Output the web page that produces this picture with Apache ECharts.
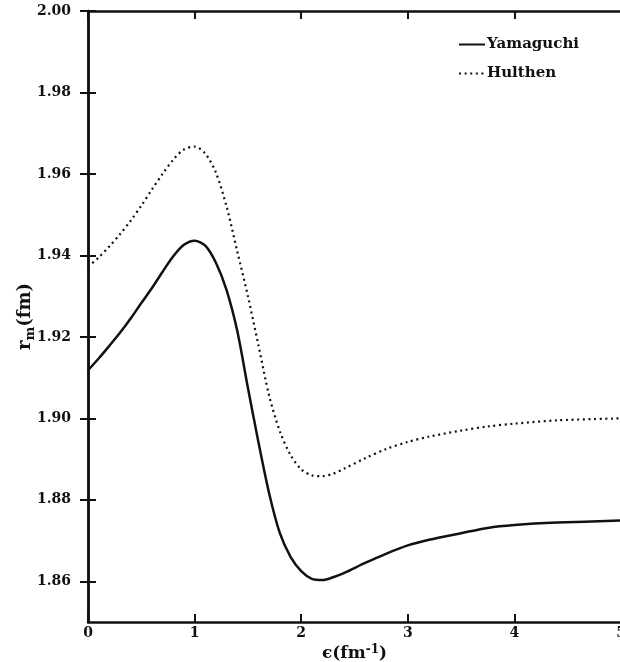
<!DOCTYPE html>
<html>
<head>
<meta charset="utf-8">
<script src="https://cdn.jsdelivr.net/npm/echarts@6/dist/echarts.min.js"></script>
<style>
  html, body { margin: 0; padding: 0; background: #fff; }
  #chart { width: 620px; height: 662px; }
</style>
</head>
<body>
<div id="chart"></div>
<script>
// Energy parameter epsilon (fm^-1) and matter radius r_m (fm)
const yamaguchiEps = [0, 0.1, 0.2, 0.3, 0.4, 0.5, 0.6, 0.7, 0.8, 0.9, 1.0, 1.1, 1.2, 1.3, 1.4, 1.5, 1.6, 1.7, 1.8, 1.9, 2.0, 2.1, 2.2, 2.3, 2.4, 2.6, 2.8, 3.0, 3.2, 3.5, 3.75, 4.0, 4.4, 5.0];
const yamaguchiRm  = [1.9118, 1.9147, 1.9178, 1.9210, 1.9245, 1.9283, 1.9320, 1.9360, 1.9398, 1.9426, 1.9436, 1.9424, 1.9382, 1.9315, 1.9215, 1.9075, 1.8940, 1.8815, 1.8718, 1.8660, 1.8625, 1.8606, 1.8603, 1.8610, 1.8620, 1.8645, 1.8668, 1.8688, 1.8702, 1.8718, 1.8731, 1.8738, 1.8744, 1.8749];

const hulthenEps = [0, 0.1, 0.2, 0.3, 0.4, 0.5, 0.6, 0.7, 0.8, 0.9, 1.0, 1.1, 1.2, 1.3, 1.4, 1.5, 1.6, 1.7, 1.8, 1.9, 2.0, 2.1, 2.2, 2.3, 2.4, 2.6, 2.8, 3.0, 3.2, 3.5, 3.75, 4.0, 4.4, 5.0];
const hulthenRm  = [1.9372, 1.9395, 1.9422, 1.9452, 1.9485, 1.9522, 1.9562, 1.9600, 1.9635, 1.9660, 1.9667, 1.9650, 1.9603, 1.9520, 1.9410, 1.9300, 1.9178, 1.9055, 1.8968, 1.8910, 1.8875, 1.8860, 1.8858, 1.8864, 1.8876, 1.8902, 1.8925, 1.8942, 1.8955, 1.8970, 1.8980, 1.8987, 1.8995, 1.9000];

const xTicks = [0, 1, 2, 3, 4, 5];
const yTicks = [1.86, 1.88, 1.90, 1.92, 1.94, 1.96, 1.98, 2.00];

const pair = (xs, ys) => xs.map((x, i) => [x, ys[i]]);

const FONT = '"DejaVu Serif", "Liberation Serif", serif';
const INK = '#111';

const chart = echarts.init(document.getElementById('chart'), null, { renderer: 'canvas' });

const tickStyle = { show: true, inside: true, length: 8, lineStyle: { color: INK, width: 2 } };
const lineStyle = { show: true, lineStyle: { color: INK, width: 2.5 } };

chart.setOption({
  animation: false,
  backgroundColor: '#fff',
  grid: { left: 88, right: -1, top: 11, bottom: 40, containLabel: false, outerBoundsMode: 'none' },
  legend: {
    orient: 'vertical',
    right: 36,
    top: 32,
    itemGap: 14,
    itemWidth: 26,
    itemHeight: 10,
    itemStyle: { opacity: 0 },
    textStyle: { fontFamily: FONT, fontWeight: 'bold', fontSize: 15, color: INK, padding: [0, 0, 0, -3] },
    data: ['Yamaguchi', 'Hulthen']
  },
  xAxis: [
    {
      type: 'value', min: 0, max: 5, interval: 1, position: 'bottom',
      axisLine: lineStyle, axisTick: tickStyle, splitLine: { show: false },
      axisLabel: {
        customValues: xTicks, margin: 4,
        fontFamily: FONT, fontWeight: 'bold', fontSize: 14, color: INK
      },
      name: '{e|ϵ}{p|(fm}{s|-1}{p|)}',
      nameLocation: 'middle', nameGap: 22, nameMoveOverlap: false,
      nameTextStyle: {
        rich: {
          e: { fontFamily: FONT, fontSize: 17, fontWeight: 'bold', color: INK },
          p: { fontFamily: FONT, fontSize: 17, fontWeight: 'bold', color: INK },
          s: { fontFamily: FONT, fontSize: 12, fontWeight: 'bold', color: INK, verticalAlign: 'top', padding: [0, 0, 8, 0] }
        }
      }
    },
    {
      type: 'value', min: 0, max: 5, interval: 1, position: 'top',
      axisLine: lineStyle, axisTick: tickStyle, axisLabel: { show: false }, splitLine: { show: false }
    }
  ],
  yAxis: [
    {
      type: 'value', min: 1.85, max: 2.00, position: 'left',
      axisLine: lineStyle,
      axisTick: Object.assign({ customValues: yTicks }, tickStyle),
      splitLine: { show: false },
      axisLabel: {
        customValues: yTicks, margin: 17,
        formatter: v => v.toFixed(2),
        fontFamily: FONT, fontWeight: 'bold', fontSize: 14, color: INK
      },
      name: '{r|r}{m|m}{r|(fm)}',
      nameLocation: 'middle', nameGap: 51, nameRotate: 90, nameMoveOverlap: false,
      nameTextStyle: {
        rich: {
          r: { fontFamily: FONT, fontSize: 18, fontWeight: 'bold', color: INK },
          m: { fontFamily: FONT, fontSize: 13, fontWeight: 'bold', color: INK, padding: [10, 0, 0, 0] }
        }
      }
    },
    {
      type: 'value', min: 1.85, max: 2.00, position: 'right',
      axisLine: lineStyle,
      axisTick: Object.assign({ customValues: yTicks }, tickStyle),
      axisLabel: { show: false }, splitLine: { show: false }
    }
  ],
  series: [
    {
      name: 'Yamaguchi', type: 'line', smooth: 0.3, symbol: 'none',
      xAxisIndex: 0, yAxisIndex: 0,
      lineStyle: { color: INK, width: 2.5 },
      itemStyle: { color: INK },
      data: pair(yamaguchiEps, yamaguchiRm)
    },
    {
      name: 'Hulthen', type: 'line', smooth: 0.3, symbol: 'none',
      xAxisIndex: 0, yAxisIndex: 0,
      lineStyle: { color: INK, width: 2.2, type: [2, 3.6], cap: 'butt' },
      itemStyle: { color: INK },
      data: pair(hulthenEps, hulthenRm)
    }
  ]
});
</script>
</body>
</html>
